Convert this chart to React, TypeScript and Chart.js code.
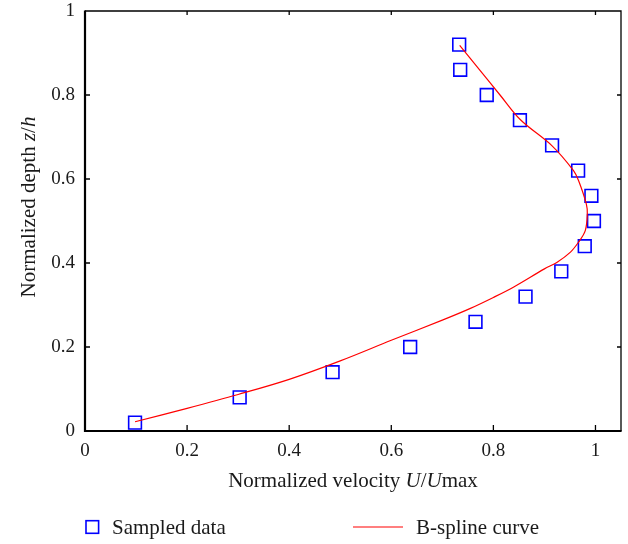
import React, { useEffect, useRef } from "react";
import { Chart, registerables } from "chart.js";

Chart.register(...registerables);

// ---- data ----
const sampledU = [0.098, 0.303, 0.485, 0.637, 0.765, 0.863, 0.933, 0.979, 0.997, 0.992, 0.966, 0.915, 0.852, 0.787, 0.735, 0.733];
const sampledZ = [0.02, 0.08, 0.14, 0.2, 0.26, 0.32, 0.38, 0.44, 0.5, 0.56, 0.62, 0.68, 0.74, 0.8, 0.86, 0.92];

const splineU = [0.098, 0.2, 0.3, 0.4, 0.5, 0.6, 0.7, 0.755, 0.8, 0.84, 0.9, 0.925, 0.951, 0.967, 0.98, 0.984, 0.982, 0.967, 0.957, 0.915, 0.853, 0.813, 0.773, 0.734];
const splineZ = [0.022, 0.054, 0.087, 0.123, 0.167, 0.216, 0.264, 0.292, 0.318, 0.343, 0.386, 0.402, 0.426, 0.45, 0.477, 0.517, 0.541, 0.596, 0.62, 0.679, 0.741, 0.8, 0.86, 0.918];

const xTicks = [0, 0.2, 0.4, 0.6, 0.8, 1];
const xTickLabels = ["0", "0.2", "0.4", "0.6", "0.8", "1"];
const yTicks = [0, 0.2, 0.4, 0.6, 0.8, 1];
const yTickLabels = ["0", "0.2", "0.4", "0.6", "0.8", "1"];

const seriesLabels = ["Sampled data", "B-spline curve"];
const xTitleParts: [string, boolean][] = [["Normalized velocity ", false], ["U", true], ["/", false], ["U", true], ["max", false]];
const yTitleParts: [string, boolean][] = [["Normalized depth ", false], ["z", true], ["/", false], ["h", true]];

const FAMILY = "'Liberation Serif', 'Times New Roman', serif";

function fontOf(italic: boolean, size: number) {
  return `${italic ? "italic " : ""}${size}px ${FAMILY}`;
}

function drawParts(ctx: CanvasRenderingContext2D, parts: [string, boolean][], size: number, cx: number, baseY: number) {
  const widths = parts.map(([t, it]) => {
    ctx.font = fontOf(it, size);
    return ctx.measureText(t).width;
  });
  const total = widths.reduce((a, b) => a + b, 0);
  let xx = cx - total / 2;
  ctx.textAlign = "left";
  ctx.textBaseline = "alphabetic";
  parts.forEach(([t, it], i) => {
    ctx.font = fontOf(it, size);
    ctx.fillText(t, xx, baseY);
    xx += widths[i];
  });
}

const decorPlugin = {
  id: "decor",
  afterDraw(chart: any) {
    const ctx: CanvasRenderingContext2D = chart.ctx;
    const { left, right, top, bottom } = chart.chartArea;
    const xs = chart.scales.x;
    const ys = chart.scales.y;
    ctx.save();
    ctx.strokeStyle = "#000";
    ctx.fillStyle = "#000";

    // inward ticks
    ctx.lineWidth = 1.3;
    ctx.beginPath();
    xTicks.forEach((v) => {
      const px = xs.getPixelForValue(v);
      if (Math.abs(px - left) < 2) return;
      ctx.moveTo(px, bottom);
      ctx.lineTo(px, bottom - 6);
      ctx.moveTo(px, top);
      ctx.lineTo(px, top + 4);
    });
    yTicks.forEach((v) => {
      const py = ys.getPixelForValue(v);
      if (Math.abs(py - bottom) < 2 || Math.abs(py - top) < 2) return;
      ctx.moveTo(left, py);
      ctx.lineTo(left + 5, py);
      ctx.moveTo(right, py);
      ctx.lineTo(right - 4, py);
    });
    ctx.stroke();

    // box
    ctx.lineWidth = 1.3;
    ctx.beginPath();
    ctx.moveTo(left, top);
    ctx.lineTo(right, top);
    ctx.lineTo(right, bottom);
    ctx.stroke();
    ctx.lineWidth = 2.2;
    ctx.beginPath();
    ctx.moveTo(left, top - 0.5);
    ctx.lineTo(left, bottom);
    ctx.lineTo(right + 0.6, bottom);
    ctx.stroke();

    // axis titles
    ctx.fillStyle = "#1a1a1a";
    drawParts(ctx, xTitleParts, 21, (left + right) / 2, bottom + 56);
    ctx.save();
    ctx.translate(35, (top + bottom) / 2 - 14);
    ctx.rotate(-Math.PI / 2);
    drawParts(ctx, yTitleParts, 21, 0, 0);
    ctx.restore();

    // legend
    const ds = chart.data.datasets;
    const ly = bottom + 96;
    ctx.strokeStyle = "#0000ff";
    ctx.lineWidth = 1.6;
    ctx.strokeRect(86, ly - 6.3, 12.6, 12.6);
    ctx.strokeStyle = "#ff0000";
    ctx.lineWidth = 1.2;
    ctx.beginPath();
    ctx.moveTo(353, ly);
    ctx.lineTo(403, ly);
    ctx.stroke();
    ctx.fillStyle = "#1a1a1a";
    ctx.font = fontOf(false, 21);
    ctx.textAlign = "left";
    ctx.textBaseline = "alphabetic";
    ctx.fillText(ds[0].label, 112, ly + 7);
    ctx.fillText(ds[1].label, 416, ly + 7);
    ctx.restore();
  },
};

export default function App() {
  const ref = useRef<HTMLCanvasElement | null>(null);
  useEffect(() => {
    if (!ref.current) return;
    const chart = new Chart(ref.current, {
      type: "scatter",
      data: {
        datasets: [
          {
            label: seriesLabels[0],
            data: sampledU.map((u, i) => ({ x: u, y: sampledZ[i] })),
            pointStyle: "rect",
            pointRadius: 9,
            pointHoverRadius: 9,
            borderColor: "#0000ff",
            backgroundColor: "rgba(0,0,0,0)",
            borderWidth: 1.6,
            showLine: false,
            order: 2,
          },
          {
            label: seriesLabels[1],
            data: splineU.map((u, i) => ({ x: u, y: splineZ[i] })),
            showLine: true,
            borderColor: "#ff0000",
            backgroundColor: "rgba(0,0,0,0)",
            borderWidth: 1.2,
            pointRadius: 0,
            pointHoverRadius: 0,
            tension: 0.35,
            fill: false,
            order: 1,
          },
        ],
      },
      options: {
        animation: false,
        responsive: false,
        devicePixelRatio: 1,
        layout: { autoPadding: false, padding: { left: 0, top: 11, right: 7, bottom: 0 } },
        plugins: {
          legend: { display: false },
          tooltip: { enabled: false },
        },
        scales: {
          x: {
            type: "linear",
            min: 0,
            max: 1.05,
            position: "bottom",
            afterBuildTicks: (s: any) => {
              s.ticks = xTicks.map((v) => ({ value: v }));
            },
            afterFit: (s: any) => {
              s.height = 113;
              s.paddingLeft = 0;
              s.paddingRight = 0;
            },
            grid: { display: false, drawTicks: false },
            border: { display: false },
            ticks: {
              color: "#1a1a1a",
              font: { family: FAMILY, size: 19 },
              padding: 9,
              maxRotation: 0,
              autoSkip: false,
              callback: (_v: any, i: number) => xTickLabels[i],
            },
          },
          y: {
            type: "linear",
            min: 0,
            max: 1,
            afterBuildTicks: (s: any) => {
              s.ticks = yTicks.map((v) => ({ value: v }));
            },
            afterFit: (s: any) => {
              s.width = 85;
              s.paddingTop = 0;
              s.paddingBottom = 0;
            },
            grid: { display: false, drawTicks: false },
            border: { display: false },
            ticks: {
              color: "#1a1a1a",
              font: { family: FAMILY, size: 19 },
              padding: 10,
              autoSkip: false,
              callback: (_v: any, i: number) => yTickLabels[i],
            },
          },
        },
      },
      plugins: [decorPlugin],
    } as any);
    return () => chart.destroy();
  }, []);

  return (
    <div style={{ position: "fixed", left: 0, top: 0, width: 628, height: 544, background: "#fff" }}>
      <canvas ref={ref} width={628} height={544} style={{ display: "block" }} />
    </div>
  );
}
